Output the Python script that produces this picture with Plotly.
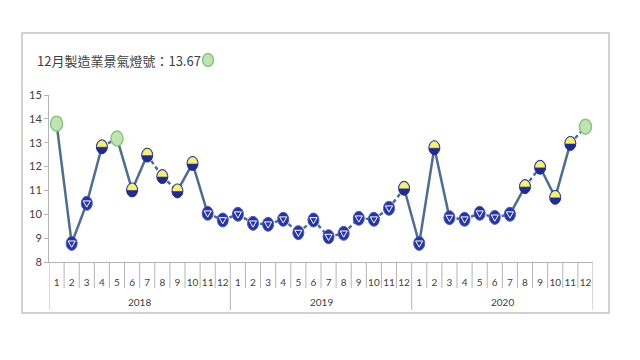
import plotly.graph_objects as go

years = ["2018", "2019", "2020"]
months = ["1", "2", "3", "4", "5", "6", "7", "8", "9", "10", "11", "12"]
scores = [13.80, 8.78, 10.46, 12.83, 13.18, 11.02, 12.48, 11.58, 10.98, 12.13, 10.04, 9.76,
          10.00, 9.62, 9.58, 9.79, 9.23, 9.76, 9.06, 9.20, 9.83, 9.79, 10.25, 11.09,
          8.78, 12.79, 9.86, 9.79, 10.04, 9.87, 10.00, 11.16, 11.97, 10.71, 12.97, 13.67]
# G = green, Y = yellow-blue, B = blue
lights = ["G", "B", "B", "Y", "G", "Y", "Y", "Y", "Y", "Y", "B", "B",
          "B", "B", "B", "B", "B", "B", "B", "B", "B", "B", "B", "Y",
          "B", "Y", "B", "B", "B", "B", "B", "Y", "Y", "Y", "Y", "G"]
title_text = "12月製造業景氣燈號：13.67"

x_month = [m for _ in years for m in months]
idx = list(range(len(scores)))
n = len(scores)
nm = len(months)

W, H = 640, 360
ML, MR, MT, MB = 49, 47, 95, 98
PW, PH = W - ML - MR, H - MT - MB


def px(xp):
    return (xp - ML) / PW


def py(yp):
    return (H - MB - yp) / PH


LINE_C = "#4f6d8e"
NAVY = "#222c8c"
YELLOW = "#f4f07a"
GREEN_F = "#bfe4b2"
GREEN_L = "#8cc580"
GRID_C = "#b4b4b4"
TXT_C = "#404040"

# split the connecting line into solid (steep) and dashed (flat) parts
sx, sy, dx, dy = [], [], [], []
for i in range(n - 1):
    if abs(scores[i + 1] - scores[i]) >= 1.0:
        sx += [idx[i], idx[i + 1], None]
        sy += [scores[i], scores[i + 1], None]
    else:
        dx += [idx[i], idx[i + 1], None]
        dy += [scores[i], scores[i + 1], None]

fig = go.Figure()
fig.add_trace(go.Scatter(x=sx, y=sy, mode="lines", line=dict(color=LINE_C, width=2.5),
                         showlegend=False, hoverinfo="skip"))
fig.add_trace(go.Scatter(x=dx, y=dy, mode="lines",
                         line=dict(color=LINE_C, width=2.5, dash="4px,3px"),
                         showlegend=False, hoverinfo="skip"))

shapes = []
k = 0.5523


def ell(i, v, rx, ry, fill, lc, lw):
    return dict(type="circle", xref="x", yref="y", xsizemode="pixel", ysizemode="pixel",
                xanchor=i, yanchor=v, x0=-rx, x1=rx, y0=-ry, y1=ry,
                fillcolor=fill, line=dict(color=lc, width=lw), layer="above")


def path(i, v, p, fill, lc, lw):
    return dict(type="path", xref="x", yref="y", xsizemode="pixel", ysizemode="pixel",
                xanchor=i, yanchor=v, path=p, fillcolor=fill,
                line=dict(color=lc, width=lw), layer="above")


for i, v, l in zip(idx, scores, lights):
    if l == "G":
        shapes.append(ell(i, v, 6, 7.5, GREEN_F, GREEN_L, 1.5))
    elif l == "Y":
        shapes.append(ell(i, v, 5.5, 7, NAVY, NAVY, 1))
        rx, ry = 4.7, 6.1
        p = (f"M {-rx},0.0 C {-rx},{k*ry:.2f} {-k*rx:.2f},{ry} 0,{ry} "
             f"C {k*rx:.2f},{ry} {rx},{k*ry:.2f} {rx},0.0 Z")
        shapes.append(path(i, v, p, YELLOW, YELLOW, 0.5))
    else:
        shapes.append(ell(i, v, 5.5, 7, "#28359c", "#4a5cc0", 1))
        shapes.append(path(i, v, "M -3.6,2.4 L 3.6,2.4 L 0,-3.8 Z", "#28359c", "white", 1))

# table grid under the x axis
for b in range(n + 1):
    full = (b % nm == 0)
    shapes.append(dict(type="line", xref="x", yref="paper",
                       x0=b - 0.5, x1=b - 0.5, y0=0, y1=py(310 if full else 288),
                       line=dict(color=GRID_C, width=1), layer="above"))

# outer frame and title icon
shapes.append(dict(type="rect", xref="paper", yref="paper", x0=px(22), x1=px(609),
                   y0=py(313), y1=py(33), line=dict(color="#c4c4c4", width=1.5),
                   layer="below"))
shapes.append(dict(type="circle", xref="paper", yref="paper", x0=px(202.5), x1=px(213.5),
                   y0=py(66.5), y1=py(53.5), fillcolor=GREEN_F,
                   line=dict(color=GREEN_L, width=1.5)))

annotations = [dict(text=title_text, xref="paper", yref="paper", x=px(35), y=py(60),
                    xanchor="left", yanchor="middle", showarrow=False,
                    font=dict(family="Noto Sans CJK TC", size=13, color=TXT_C))]
for j, yr in enumerate(years):
    annotations.append(dict(text=yr, xref="x", yref="paper", x=j * nm + (nm - 1) / 2,
                            y=py(302), xanchor="center", yanchor="middle", showarrow=False,
                            font=dict(family="Lato", size=10, color=TXT_C)))

fig.update_layout(
    width=W, height=H,
    margin=dict(l=ML, r=MR, t=MT, b=MB, autoexpand=False),
    paper_bgcolor="white", plot_bgcolor="white",
    showlegend=False, hovermode=False,
    shapes=shapes, annotations=annotations,
    xaxis=dict(range=[-0.5, n - 0.5], tickmode="array", tickvals=idx, ticktext=x_month,
               showline=True, linecolor=GRID_C, linewidth=1, ticks="outside", ticklen=11,
               tickcolor="rgba(0,0,0,0)", showgrid=False, zeroline=False,
               tickangle=0, automargin=False,
               tickfont=dict(family="Lato", size=10, color=TXT_C)),
    yaxis=dict(range=[8, 15], dtick=1, showline=True, linecolor=GRID_C, linewidth=1,
               ticks="outside", ticklen=4, tickcolor=GRID_C, showgrid=False, zeroline=False,
               automargin=False,
               tickfont=dict(family="Lato", size=11, color=TXT_C)),
)

fig.write_html("out.html", config={"displayModeBar": False},
               post_script="document.body.style.margin='0';")
